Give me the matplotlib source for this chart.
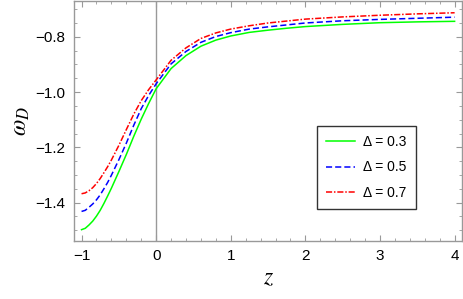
import matplotlib
matplotlib.use("Agg")
import matplotlib.pyplot as plt
from matplotlib.ticker import MultipleLocator

# valeurs
z = [-1.0, -0.95, -0.9, -0.85, -0.8, -0.75, -0.7, -0.65, -0.6, -0.5, -0.4, -0.3, -0.2, -0.1, 0.0,
     0.2, 0.4, 0.6, 0.8, 1.0, 1.25, 1.5, 1.75, 2.0, 2.5, 3.0, 3.5, 4.0]
w_03 = [-1.498, -1.493, -1.481, -1.467, -1.449, -1.428, -1.403, -1.376, -1.348, -1.288, -1.226,
        -1.160, -1.098, -1.041, -0.988,
        -0.915, -0.868, -0.834, -0.812, -0.797, -0.784, -0.776, -0.769, -0.763, -0.755, -0.749, -0.746, -0.744]
w_05 = [-1.432, -1.428, -1.417, -1.405, -1.390, -1.372, -1.350, -1.327, -1.301, -1.245, -1.185,
        -1.120, -1.060, -1.012, -0.970,
        -0.898, -0.853, -0.820, -0.799, -0.785, -0.772, -0.764, -0.757, -0.750, -0.742, -0.737, -0.733, -0.729]
w_07 = [-1.368, -1.365, -1.357, -1.346, -1.331, -1.313, -1.292, -1.270, -1.246, -1.193, -1.136,
        -1.080, -1.031, -0.991, -0.956,
        -0.885, -0.840, -0.806, -0.786, -0.772, -0.760, -0.750, -0.743, -0.736, -0.728, -0.722, -0.717, -0.713]
labels = ["Δ = 0.3", "Δ = 0.5", "Δ = 0.7"]

plt.rcParams['mathtext.fontset'] = 'stix'
plt.rcParams['font.family'] = ['Liberation Sans', 'DejaVu Sans']

fig = plt.figure(figsize=(4.63, 2.99), dpi=100)
ax = fig.add_axes([0.160, 0.194, 0.838, 0.804])

ax.axvline(0, color="#999999", lw=1.0, zorder=1)
ax.plot(z, w_03, color=(0, 1, 0), lw=1.1, label=labels[0])
ax.plot(z, w_05, color=(0, 0, 1), lw=1.1, ls=(0, (4, 2)), label=labels[1])
ax.plot(z, w_07, color=(1, 0, 0), lw=1.1, ls=(0, (4, 1.2, 1, 1.2)), label=labels[2])

ax.set_xlim(-1.1, 4.1)
ax.set_ylim(-1.539, -0.669)

gris = "#999999"
for s in ax.spines.values():
    s.set_color(gris)
    s.set_linewidth(1.0)
ax.xaxis.set_major_locator(MultipleLocator(1))
ax.xaxis.set_minor_locator(MultipleLocator(0.2))
ax.yaxis.set_major_locator(MultipleLocator(0.2))
ax.yaxis.set_minor_locator(MultipleLocator(0.05))
ax.tick_params(which="both", direction="in", top=True, right=True, color=gris, labelsize=11)
ax.tick_params(which="major", length=4, width=0.8, pad=6)
ax.tick_params(which="minor", length=2, width=0.6)
ax.xaxis.set_major_formatter(plt.FuncFormatter(lambda v, p: f"{v:.0f}".replace("-", "\u2212")))
ax.yaxis.set_major_formatter(plt.FuncFormatter(lambda v, p: f"{v:.1f}".replace("-", "\u2212")))

ax.set_xlabel(r"$z$", fontsize=17, labelpad=3)
ax.set_ylabel(r"$\omega_D$", fontsize=17, labelpad=3)

leg = ax.legend(loc="upper left", bbox_to_anchor=(0.6255, 0.477), borderaxespad=0, fontsize=10,
                frameon=True, fancybox=False, handlelength=2.1, borderpad=0.65, labelspacing=0.8,
                handletextpad=0.6)
leg.get_frame().set_edgecolor("black")
leg.get_frame().set_linewidth(1.0)

fig.savefig("out.png", dpi=100)
